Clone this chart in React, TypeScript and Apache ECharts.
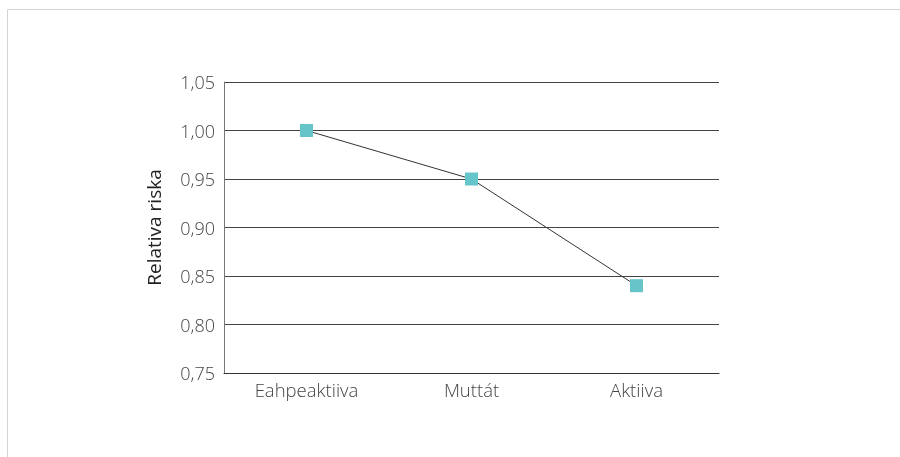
import React, { useEffect, useRef } from "react";
import * as echarts from "echarts";

const categories = ["Eahpeaktiiva", "Muttát", "Aktiiva"];
const values = [1.0, 0.95, 0.84];
const yName = "Relativa riska";

export default function App() {
  const ref = useRef<HTMLDivElement>(null);
  useEffect(() => {
    const chart = echarts.init(ref.current!, null, { renderer: "svg" });
    chart.setOption({
      animation: false,
      graphic: [
        {
          type: "rect",
          shape: { x: 7.5, y: 9.5, width: 900, height: 460 },
          style: { fill: "none", stroke: "#d4d4d4", lineWidth: 1 },
          silent: true,
        },
      ],
      grid: { left: 224, right: 181, top: 82, bottom: 84 },
      xAxis: {
        type: "category",
        data: categories,
        boundaryGap: true,
        axisLine: { lineStyle: { color: "#333", width: 1 } },
        axisTick: { show: false },
        axisLabel: { color: "#444", fontFamily: "Open Sans", fontWeight: 300, fontSize: 18.5, margin: 7 },
      },
      yAxis: {
        type: "value",
        min: 0.75,
        max: 1.05,
        interval: 0.05,
        name: yName,
        nameLocation: "middle",
        nameGap: 61,
        nameTextStyle: { color: "#222", fontFamily: "Open Sans", fontSize: 19 },
        axisLine: { show: true, lineStyle: { color: "#777", width: 1 } },
        axisTick: { show: false },
        axisLabel: {
          color: "#444",
          fontFamily: "Open Sans",
          fontWeight: 300,
          fontSize: 18,
          margin: 9,
          formatter: (v: number) => v.toFixed(2).replace(".", ","),
        },
        splitLine: { lineStyle: { color: "#444", width: 1 } },
      },
      series: [
        {
          type: "line",
          data: values,
          symbol: "rect",
          symbolSize: 13,
          itemStyle: { color: "#66c5c9" },
          lineStyle: { color: "#333", width: 1 },
        },
      ],
    });
    return () => chart.dispose();
  }, []);
  return <div ref={ref} style={{ position: "fixed", left: 0, top: 0, width: 900, height: 457 }} />;
}
